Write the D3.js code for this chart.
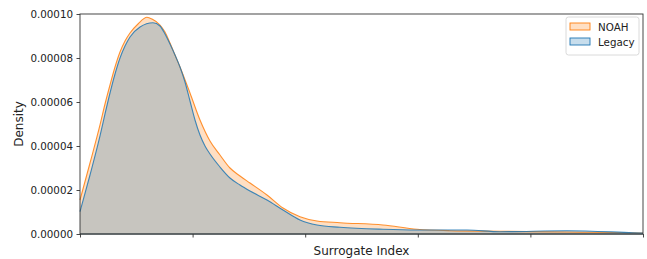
<!DOCTYPE html>
<html><head><meta charset="utf-8">
<script src="https://cdn.jsdelivr.net/npm/d3@7"></script>
<style>body{margin:0;background:#fff}svg{display:block;font-family:"DejaVu Sans",sans-serif}</style>
</head><body><svg id="c" width="647" height="259"></svg>
<script>
const seriesNames = ["NOAH", "Legacy"];
const noahX = [0, 0.0888, 0.1776, 0.2220, 0.2664, 0.3108, 0.3552, 0.3996, 0.4440, 0.5151, 0.5950, 0.6394, 0.7105, 0.7549, 0.7993, 0.8437, 0.8881, 0.9769, 1.0657, 1.1545, 1.2433, 1.3321, 1.4210, 1.5098, 1.6607, 1.8028, 1.9538, 2.1048, 2.3091, 2.6909, 2.9929, 3.2860, 3.7300, 4.3250, 4.9112, 5];
const noahY = [1.545e-5, 3.227e-5, 4.955e-5, 5.909e-5, 6.773e-5, 7.591e-5, 8.273e-5, 8.773e-5, 9.136e-5, 9.545e-5, 9.850e-5, 9.773e-5, 9.500e-5, 9.182e-5, 8.682e-5, 8.136e-5, 7.591e-5, 6.409e-5, 5.182e-5, 4.227e-5, 3.591e-5, 3.000e-5, 2.636e-5, 2.318e-5, 1.773e-5, 1.182e-5, 7.86e-6, 5.91e-6, 5.14e-6, 4.09e-6, 2.14e-6, 1.50e-6, 1.23e-6, 9.1e-7, 5.9e-7, 4.5e-7];
const legacyX = [0, 0.0888, 0.1776, 0.2220, 0.2664, 0.3108, 0.3552, 0.3996, 0.4440, 0.5329, 0.6483, 0.7105, 0.7549, 0.7993, 0.8437, 0.8881, 0.9325, 0.9769, 1.0213, 1.0657, 1.1101, 1.1545, 1.2433, 1.3321, 1.4210, 1.5098, 1.6607, 1.8028, 1.9538, 2.1048, 2.3091, 2.6909, 2.9929, 3.4369, 3.7300, 4.3250, 4.9112, 5];
const legacyY = [1.014e-5, 2.682e-5, 4.455e-5, 5.455e-5, 6.409e-5, 7.273e-5, 8.000e-5, 8.545e-5, 8.955e-5, 9.409e-5, 9.605e-5, 9.455e-5, 9.091e-5, 8.636e-5, 8.136e-5, 7.591e-5, 6.909e-5, 6.045e-5, 5.182e-5, 4.500e-5, 4.000e-5, 3.636e-5, 3.045e-5, 2.545e-5, 2.227e-5, 1.955e-5, 1.545e-5, 1.091e-5, 6.36e-6, 4.09e-6, 3.05e-6, 2.14e-6, 1.82e-6, 1.82e-6, 1.05e-6, 1.50e-6, 5.9e-7, 4.5e-7];
const xTicks = [0, 1, 2, 3, 4, 5];
const yTicks = [0, 0.00002, 0.00004, 0.00006, 0.00008, 0.0001];
const xLabel = "Surrogate Index", yLabel = "Density";
const colors = ["#ff7f0e", "#1f77b4"];

const svg = d3.select("#c");
const m = {l: 80, r: 4, t: 14, b: 25};
const W = 647, H = 259;
const x = d3.scaleLinear().domain([0, 5]).range([m.l, W - m.r]);
const y = d3.scaleLinear().domain([0, 0.0001]).range([H - m.b, m.t]);

const series = [
  {name: seriesNames[0], pts: noahX.map((v, i) => [v, noahY[i]]), c: colors[0]},
  {name: seriesNames[1], pts: legacyX.map((v, i) => [v, legacyY[i]]), c: colors[1]}
];
const crv = d3.curveMonotoneX;
const area = d3.area().x(d => x(d[0])).y0(y(0)).y1(d => y(d[1])).curve(crv);
const line = d3.line().x(d => x(d[0])).y(d => y(d[1])).curve(crv);
series.forEach(s => {
  svg.append("path").attr("d", area(s.pts)).attr("fill", s.c).attr("fill-opacity", 0.25);
});
series.forEach(s => {
  svg.append("path").attr("d", line(s.pts)).attr("fill", "none").attr("stroke", s.c).attr("stroke-opacity", 0.85).attr("stroke-width", 1.1);
  svg.append("line").attr("x1", x(0)).attr("x2", x(5)).attr("y1", y(0)).attr("y2", y(0)).attr("stroke", s.c).attr("stroke-width", 1.1);
});

svg.append("rect").attr("x", m.l).attr("y", m.t).attr("width", W - m.r - m.l).attr("height", H - m.b - m.t)
  .attr("fill", "none").attr("stroke", "#333").attr("stroke-width", 0.9);

const xa = svg.append("g").attr("transform", `translate(0,${H - m.b})`)
  .call(d3.axisBottom(x).tickValues(xTicks).tickFormat("").tickSize(3.5));
const ya = svg.append("g").attr("transform", `translate(${m.l},0)`)
  .call(d3.axisLeft(y).tickValues(yTicks).tickFormat(d3.format(".5f")).tickSize(3.5).tickPadding(3.5));
[xa, ya].forEach(a => {
  a.select(".domain").remove();
  a.selectAll(".tick line").attr("stroke", "#333").attr("stroke-width", 0.9);
  a.selectAll("text").attr("fill", "#222").style("font-size", "10.3px").style("font-family", "DejaVu Sans");
});

svg.append("text").attr("x", (m.l + W - m.r) / 2).attr("y", 255).attr("text-anchor", "middle")
  .style("font-size", "12px").attr("fill", "#222").text(xLabel);
svg.append("text").attr("transform", `translate(23,${(m.t + H - m.b) / 2}) rotate(-90)`).attr("text-anchor", "middle")
  .style("font-size", "12px").attr("fill", "#222").text(yLabel);

const lg = svg.append("g").attr("transform", "translate(566,17)");
lg.append("rect").attr("width", 73).attr("height", 38).attr("rx", 2.5).attr("fill", "#fff").attr("fill-opacity", 0.8)
  .attr("stroke", "#d6d6d6").attr("stroke-width", 0.9);
series.forEach((s, i) => {
  const g = lg.append("g").attr("transform", `translate(4,${6 + i * 15})`);
  g.append("rect").attr("width", 20).attr("height", 7).attr("fill", s.c).attr("fill-opacity", 0.25)
    .attr("stroke", s.c).attr("stroke-width", 0.9);
  g.append("text").attr("x", 28).attr("y", 7.5).style("font-size", "10.3px").attr("fill", "#222").text(s.name);
});
</script></body></html>
